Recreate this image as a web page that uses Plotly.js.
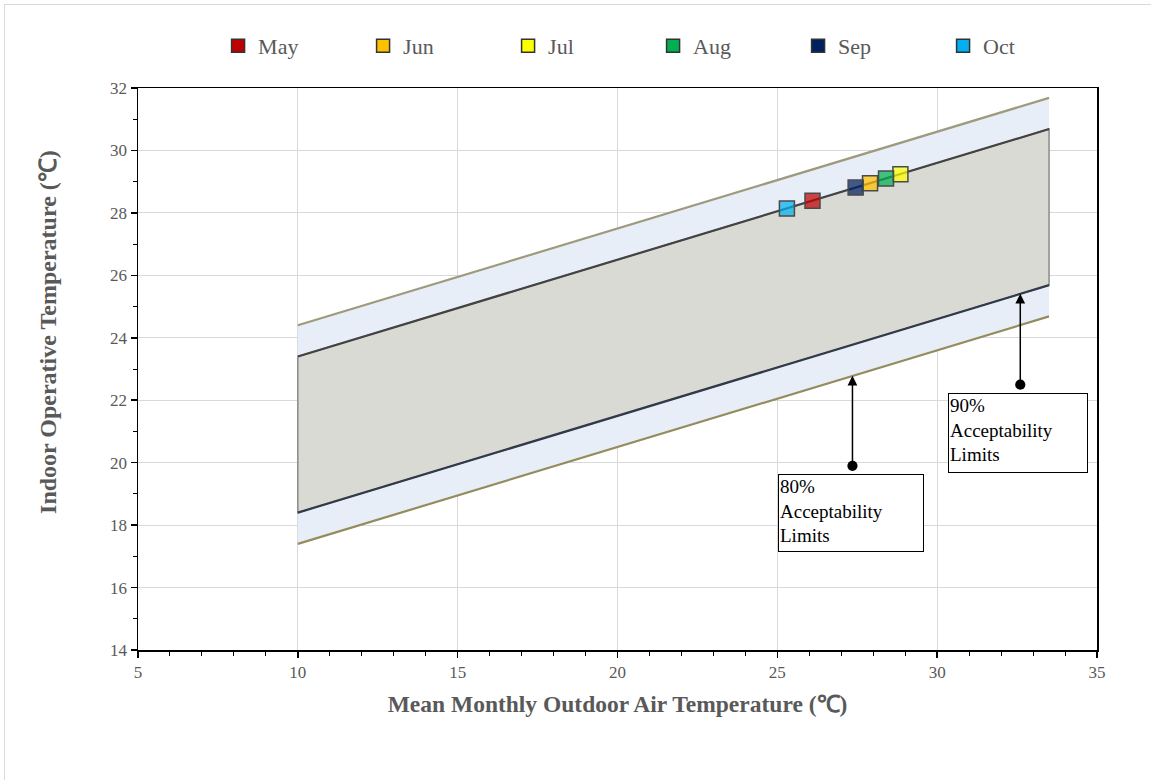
<!DOCTYPE html>
<html>
<head>
<meta charset="utf-8">
<script src="https://cdn.plot.ly/plotly-3.0.1.min.js"></script>
<style>
  html, body { margin: 0; padding: 0; background: #fff; }
  #frame { position: absolute; left: 4px; top: 4px; width: 1160px; height: 800px; border: 1px solid #d9d9d9; box-sizing: border-box; pointer-events: none; }
  #chart { position: absolute; left: 0; top: 0; width: 1151px; height: 780px; }
</style>
</head>
<body>
<div id="chart"></div>
<div id="frame"></div>
<script>
// Outdoor temperature span of the adaptive comfort zone
const zoneT = [10, 33.5];

// Acceptability limits at the two ends of the span
const upper80 = [24.4, 31.685];
const lower80 = [17.4, 24.685];
const upper90 = [23.4, 30.685];
const lower90 = [18.4, 25.685];

// Monthly observations
const months = ['May', 'Jun', 'Jul', 'Aug', 'Sep', 'Oct'];
const outdoorT = [26.1, 27.9, 28.85, 28.4, 27.45, 25.3];
const indoorT = [28.39, 28.95, 29.24, 29.1, 28.81, 28.14];
const monthColors = ['#C00000', '#FFC000', '#FFFF00', '#00B050', '#002060', '#00B0F0'];

const serif = 'Liberation Serif, Times New Roman, serif';
const grey = '#595959';

function hexToRgba(hex, a) {
  const n = parseInt(hex.slice(1), 16);
  return 'rgba(' + ((n >> 16) & 255) + ',' + ((n >> 8) & 255) + ',' + (n & 255) + ',' + a + ')';
}

const traces = [];

// 80% band (light blue)
traces.push({
  x: [zoneT[0], zoneT[1], zoneT[1], zoneT[0]],
  y: [upper80[0], upper80[1], lower80[1], lower80[0]],
  mode: 'lines', fill: 'toself', fillcolor: '#E8EEF7',
  line: { width: 0 }, showlegend: false, hoverinfo: 'skip'
});

// 90% band (grey) with thin side edges
traces.push({
  x: [zoneT[0], zoneT[1], zoneT[1], zoneT[0], zoneT[0]],
  y: [upper90[0], upper90[1], lower90[1], lower90[0], upper90[0]],
  mode: 'lines', fill: 'toself', fillcolor: '#D9DAD4',
  line: { width: 1.5, color: '#8a8a8a' }, showlegend: false, hoverinfo: 'skip'
});

// Limit lines
traces.push({ x: zoneT, y: upper80, mode: 'lines', line: { color: '#9E9A7E', width: 2.2 }, showlegend: false, hoverinfo: 'skip' });
traces.push({ x: zoneT, y: lower80, mode: 'lines', line: { color: '#948C5C', width: 2.2 }, showlegend: false, hoverinfo: 'skip' });
traces.push({ x: zoneT, y: upper90, mode: 'lines', line: { color: '#434343', width: 2.2 }, showlegend: false, hoverinfo: 'skip' });
traces.push({ x: zoneT, y: lower90, mode: 'lines', line: { color: '#323A4A', width: 2.2 }, showlegend: false, hoverinfo: 'skip' });

// Monthly points, and solid-colour legend entries
months.forEach(function (m, i) {
  traces.push({
    x: [outdoorT[i]], y: [indoorT[i]], mode: 'markers', name: m,
    marker: { symbol: 'square', size: 15, color: hexToRgba(monthColors[i], 0.72), line: { color: '#4a4a4a', width: 1.5 } },
    showlegend: false
  });
});
months.forEach(function (m, i) {
  traces.push({
    x: [null], y: [null], mode: 'markers', name: m,
    marker: { symbol: 'square', size: 13, color: monthColors[i], line: { color: '#333', width: 1.5 } },
    showlegend: true
  });
});

const arrowCommon = {
  xref: 'x', yref: 'y', axref: 'x', ayref: 'y', text: '',
  showarrow: true, arrowside: 'end+start', arrowhead: 2, arrowsize: 1.3,
  startarrowhead: 6, startarrowsize: 1.7, arrowwidth: 1.5, arrowcolor: '#000'
};
const boxCommon = {
  xref: 'x', yref: 'y', xanchor: 'left', yanchor: 'top', showarrow: false,
  align: 'left', valign: 'top', bgcolor: '#fff', bordercolor: '#000', borderwidth: 1, borderpad: 1,
  font: { family: serif, size: 19, color: '#000' }
};

const layout = {
  width: 1151, height: 780,
  margin: { l: 138, r: 54, t: 88, b: 130 },
  paper_bgcolor: '#fff', plot_bgcolor: '#fff',
  font: { family: serif, color: grey },
  xaxis: {
    range: [5, 35], dtick: 5, tick0: 5,
    showgrid: true, gridcolor: '#D9D9D9', gridwidth: 1, zeroline: false,
    showline: true, linecolor: '#000', linewidth: 1.5, mirror: true,
    ticks: 'outside', ticklen: 6, tickcolor: '#000', tickwidth: 1.5,
    minor: { dtick: 1, ticks: 'outside', ticklen: 4, tickcolor: '#000', tickwidth: 1, showgrid: false },
    tickfont: { family: serif, size: 17, color: grey },
    title: { text: 'Mean Monthly Outdoor Air Temperature (℃)', font: { family: serif, size: 23.5, color: grey, weight: 'bold' }, standoff: 14 }
  },
  yaxis: {
    range: [14, 32], dtick: 2, tick0: 14,
    showgrid: true, gridcolor: '#D9D9D9', gridwidth: 1, zeroline: false,
    showline: true, linecolor: '#000', linewidth: 1.5, mirror: true,
    ticks: 'outside', ticklen: 6, tickcolor: '#000', tickwidth: 1.5,
    minor: { dtick: 1, ticks: 'outside', ticklen: 4, tickcolor: '#000', tickwidth: 1, showgrid: false },
    tickfont: { family: serif, size: 17, color: grey }
  },
  legend: {
    orientation: 'h', x: 0.0835, xanchor: 'left', y: 1.0747, yanchor: 'middle',
    entrywidth: 100, entrywidthmode: 'pixels',
    font: { family: serif, size: 22, color: grey }, bgcolor: 'rgba(0,0,0,0)'
  },
  annotations: [
    // vertical axis title, set a little above the plot's middle
    {
      xref: 'paper', yref: 'paper', x: -0.0938, y: 0.566, xanchor: 'center', yanchor: 'middle',
      textangle: -90, showarrow: false, text: '<b>Indoor Operative Temperature (℃)</b>',
      font: { family: serif, size: 24, color: grey }
    },
    Object.assign({ x: 27.35, y: 22.78, ax: 27.35, ay: 19.85 }, arrowCommon),
    Object.assign({ x: 32.6, y: 25.41, ax: 32.6, ay: 22.45 }, arrowCommon),
    Object.assign({ x: 25.02, y: 19.63, width: 142, height: 74, text: '80%<br>Acceptability<br>Limits' }, boxCommon),
    Object.assign({ x: 30.34, y: 22.22, width: 136, height: 76, text: '90%<br>Acceptability<br>Limits' }, boxCommon)
  ],
  showlegend: true
};

Plotly.newPlot('chart', traces, layout, { displayModeBar: false, staticPlot: true });
</script>
</body>
</html>
